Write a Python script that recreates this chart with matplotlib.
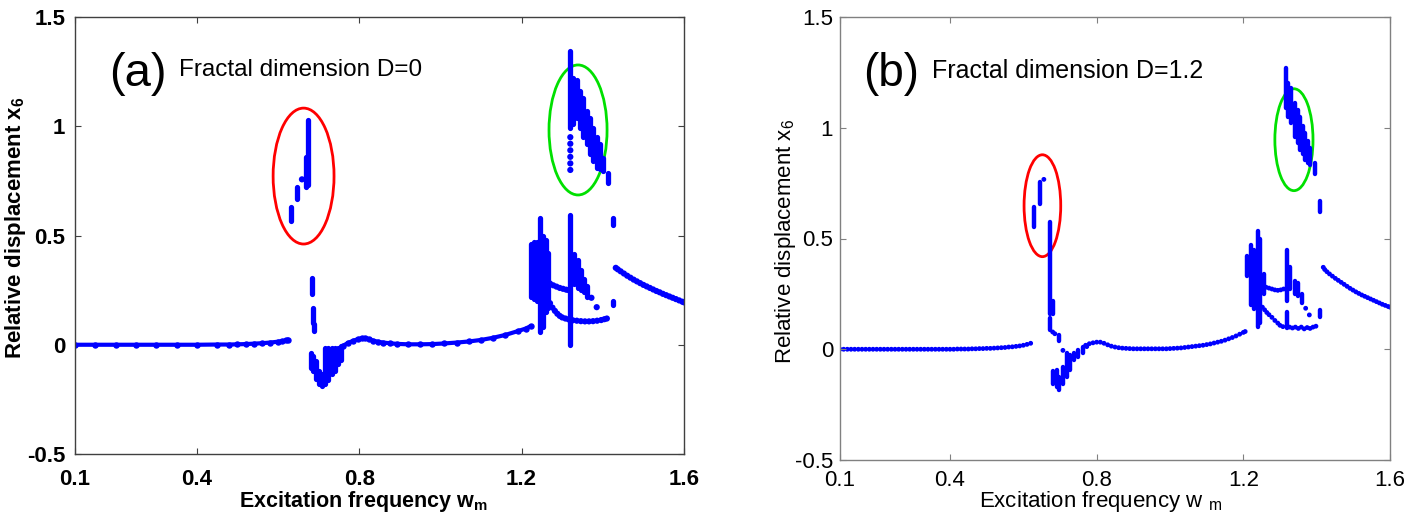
import matplotlib
matplotlib.use("Agg")
import matplotlib.pyplot as plt
from matplotlib.patches import Ellipse
from matplotlib import font_manager

# ---------------- data: panel (a) ----------------
A_BASE_L_X = [0.10, 0.15, 0.20, 0.25, 0.30, 0.35, 0.40, 0.45, 0.48, 0.50, 0.52, 0.54, 0.56, 0.58, 0.60, 0.61, 0.62, 0.625]
A_BASE_L_Y = [0.000, 0.000, 0.000, 0.000, 0.000, 0.000, 0.000, 0.001, 0.001, 0.002, 0.003, 0.005, 0.007, 0.010, 0.014, 0.017, 0.020, 0.024]
A_BASE_R_X = [0.760, 0.772, 0.785, 0.797, 0.806, 0.814, 0.824, 0.834, 0.846, 0.859, 0.875, 0.893, 0.92, 0.95, 0.98,
              1.01, 1.04, 1.07, 1.10, 1.13, 1.16, 1.19, 1.21, 1.222]
A_BASE_R_Y = [-0.005, 0.008, 0.018, 0.026, 0.030, 0.031, 0.026, 0.019, 0.014, 0.010, 0.007, 0.004, 0.002, 0.002, 0.003,
              0.006, 0.010, 0.015, 0.022, 0.032, 0.045, 0.062, 0.074, 0.085]
# dense columns: x, lower y, upper y
A_COL_X = [0.681, 0.687, 0.694, 0.700, 0.708, 0.716, 0.723, 0.732, 0.740, 0.748, 0.755,
           0.631, 0.647, 0.670, 0.675,
           0.684, 0.686, 0.689,
           1.224, 1.231, 1.238, 1.245, 1.252, 1.259, 1.265,
           1.320, 1.320,
           1.330, 1.338, 1.346, 1.354, 1.362,
           1.326, 1.336, 1.344, 1.352, 1.360, 1.368, 1.376, 1.385, 1.393, 1.401,
           1.413, 1.425, 1.425]
A_COL_LO = [-0.105, -0.120, -0.156, -0.180, -0.190, -0.180, -0.160, -0.134, -0.120, -0.090, -0.070,
            0.565, 0.665, 0.720, 0.730,
            0.230, 0.100, 0.065,
            0.22, 0.21, 0.20, 0.06, 0.08, 0.15, 0.17,
            0.00, 0.99,
            0.28, 0.26, 0.25, 0.24, 0.22,
            1.01, 1.04, 0.99, 0.95, 0.92, 0.875, 0.84, 0.81, 0.805, 0.797,
            0.74, 0.55, 0.18]
A_COL_HI = [-0.037, -0.050, -0.073, -0.120, -0.134, -0.013, -0.013, -0.013, -0.013, -0.013, -0.008,
            0.630, 0.720, 0.860, 1.030,
            0.305, 0.170, 0.095,
            0.46, 0.47, 0.47, 0.58, 0.50, 0.48, 0.42,
            0.595, 1.345,
            0.415, 0.39, 0.34, 0.30, 0.27,
            1.22, 1.21, 1.16, 1.13, 1.07, 1.04, 0.99, 0.95, 0.92, 0.856,
            0.785, 0.58, 0.20]
# individual points
A_PT_X = [0.659,
          1.320, 1.320, 1.320, 1.320, 1.320, 1.320,
          1.372, 1.385,
          1.270, 1.278, 1.286, 1.294, 1.302, 1.310, 1.316,
          1.270, 1.276, 1.282, 1.288, 1.294, 1.300, 1.308, 1.316, 1.326, 1.336, 1.346, 1.356, 1.366, 1.376,
          1.386, 1.396, 1.404, 1.410,
          1.432, 1.437, 1.444, 1.452, 1.460, 1.468, 1.476, 1.484, 1.492, 1.500, 1.508, 1.516, 1.524, 1.532,
          1.540, 1.548, 1.556, 1.564, 1.572, 1.580, 1.588, 1.596, 1.600]
A_PT_Y = [0.757,
          0.80, 0.83, 0.86, 0.89, 0.92, 0.95,
          0.215, 0.172,
          0.280, 0.272, 0.266, 0.260, 0.256, 0.252, 0.250,
          0.190, 0.170, 0.155, 0.142, 0.132, 0.125, 0.120, 0.116, 0.112, 0.110, 0.108, 0.107, 0.107, 0.108,
          0.110, 0.113, 0.117, 0.120,
          0.352, 0.345, 0.336, 0.326, 0.316, 0.307, 0.298, 0.290, 0.282, 0.274, 0.267, 0.260, 0.253, 0.246,
          0.240, 0.233, 0.227, 0.221, 0.215, 0.209, 0.203, 0.197, 0.194]

# ---------------- data: panel (b) ----------------
B_BASE_L_X = [0.10, 0.11, 0.12, 0.13, 0.14, 0.15, 0.16, 0.17, 0.18, 0.19, 0.20, 0.21, 0.22, 0.23, 0.24, 0.25, 0.26,
              0.27, 0.28, 0.29, 0.30, 0.31, 0.32, 0.33, 0.34, 0.35, 0.36, 0.37, 0.38, 0.39, 0.40, 0.41, 0.42, 0.43,
              0.44, 0.45, 0.46, 0.47, 0.48, 0.49, 0.50, 0.51, 0.52, 0.53, 0.54, 0.55, 0.56, 0.57, 0.58, 0.59, 0.60,
              0.61, 0.62]
B_BASE_L_Y = [0.000, 0.000, 0.000, 0.000, 0.000, 0.000, 0.000, 0.000, 0.000, 0.000, 0.000, 0.000, 0.000, 0.000,
              0.000, 0.000, 0.000, 0.000, 0.000, 0.000, 0.000, 0.000, 0.000, 0.000, 0.000, 0.000, 0.000, 0.000,
              0.000, 0.000, 0.000, 0.000, 0.001, 0.001, 0.001, 0.001, 0.002, 0.002, 0.003, 0.003, 0.004, 0.004,
              0.005, 0.006, 0.007, 0.008, 0.010, 0.011, 0.013, 0.015, 0.018, 0.022, 0.027]
B_BASE_R_X = [0.77, 0.78, 0.79, 0.80, 0.81, 0.82, 0.83, 0.84, 0.85, 0.86, 0.87, 0.88, 0.89, 0.90, 0.91, 0.92, 0.93,
              0.94, 0.95, 0.96, 0.97, 0.98, 0.99, 1.00, 1.01, 1.02, 1.03, 1.04, 1.05, 1.06, 1.07, 1.08, 1.09, 1.10,
              1.11, 1.12, 1.13, 1.14, 1.15, 1.16, 1.17, 1.18, 1.19, 1.20, 1.205]
B_BASE_R_Y = [0.018, 0.025, 0.029, 0.032, 0.032, 0.027, 0.020, 0.014, 0.010, 0.007, 0.005, 0.004, 0.003, 0.002,
              0.002, 0.002, 0.002, 0.002, 0.002, 0.002, 0.002, 0.002, 0.002, 0.003, 0.004, 0.005, 0.006, 0.008,
              0.010, 0.012, 0.014, 0.016, 0.018, 0.021, 0.024, 0.028, 0.032, 0.036, 0.041, 0.047, 0.053, 0.060,
              0.068, 0.076, 0.080]
B_COL_X = [0.682, 0.691, 0.698, 0.709, 0.718, 0.727, 0.738, 0.750, 0.762,
           0.630, 0.645, 0.672, 0.680, 0.672, 0.697,
           1.210, 1.220, 1.228, 1.240, 1.246, 1.255,
           1.318, 1.318, 1.328, 1.340, 1.348, 1.360, 1.410,
           1.316, 1.322, 1.330, 1.341, 1.348, 1.355, 1.362, 1.368, 1.375, 1.382, 1.395, 1.408]
B_COL_LO = [-0.155, -0.170, -0.185, -0.155, -0.125, -0.095, -0.050, -0.035, -0.018,
            0.550, 0.655, 0.160, 0.160, 0.085, 0.038,
            0.33, 0.20, 0.18, 0.10, 0.12, 0.25,
            0.22, 0.095, 0.27, 0.25, 0.24, 0.21, 0.145,
            1.09, 1.05, 1.02, 0.96, 0.93, 0.90, 0.88, 0.855, 0.84, 0.83, 0.79, 0.62]
B_COL_HI = [-0.100, -0.095, -0.125, -0.080, -0.018, -0.027, -0.018, -0.005, 0.010,
            0.640, 0.755, 0.575, 0.220, 0.140, 0.065,
            0.42, 0.47, 0.45, 0.535, 0.50, 0.34,
            0.45, 0.17, 0.37, 0.31, 0.30, 0.25, 0.175,
            1.27, 1.20, 1.18, 1.11, 1.08, 1.05, 1.01, 0.975, 0.94, 0.91, 0.84, 0.67]
B_PT_X = [0.656, 0.680, 0.686, 0.708, 0.773,
          1.262, 1.270, 1.278, 1.286, 1.294, 1.302, 1.310,
          1.252, 1.258, 1.264, 1.270, 1.278, 1.286, 1.294, 1.300, 1.308, 1.326, 1.334, 1.342, 1.350, 1.358,
          1.366, 1.374, 1.382, 1.390, 1.398,
          1.370, 1.380,
          1.418, 1.422, 1.428, 1.435, 1.443, 1.451, 1.459, 1.467, 1.475, 1.483, 1.491, 1.499, 1.507, 1.515,
          1.523, 1.531, 1.539, 1.547, 1.555, 1.563, 1.571, 1.579, 1.587, 1.595, 1.600]
B_PT_Y = [0.767, 0.078, 0.070, -0.005, 0.012,
          0.280, 0.276, 0.272, 0.268, 0.266, 0.268, 0.272,
          0.190, 0.178, 0.166, 0.156, 0.144, 0.130, 0.118, 0.108, 0.102, 0.100, 0.096, 0.100, 0.094, 0.100,
          0.092, 0.098, 0.094, 0.100, 0.104,
          0.185, 0.155,
          0.370, 0.360, 0.350, 0.340, 0.330, 0.320, 0.311, 0.302, 0.293, 0.284, 0.275, 0.267, 0.259, 0.252,
          0.245, 0.239, 0.233, 0.227, 0.221, 0.215, 0.209, 0.203, 0.198, 0.193, 0.190]

XTICKS = [0.1, 0.4, 0.8, 1.2, 1.6]
XTICK_LABELS = ["0.1", "0.4", "0.8", "1.2", "1.6"]
YTICKS = [-0.5, 0, 0.5, 1, 1.5]
YTICK_LABELS = ["-0.5", "0", "0.5", "1", "1.5"]

# ---------------- fonts ----------------
names = {f.name for f in font_manager.fontManager.ttflist}
BASE = "Liberation Sans" if "Liberation Sans" in names else "DejaVu Sans"
NARROW = "Liberation Sans Narrow" if "Liberation Sans Narrow" in names else None
plt.rcParams["font.family"] = [BASE, "DejaVu Sans"]
plt.rcParams["mathtext.default"] = "regular"

BLUE = "#0000ff"

fig = plt.figure(figsize=(14.18, 5.24), dpi=100)
axA = fig.add_axes([75 / 1418, 1 - 454 / 524, 609 / 1418, 437 / 524])
axB = fig.add_axes([840 / 1418, 1 - 460 / 524, 550 / 1418, 443 / 524])


def style(ax, bold, spine_color, xpad, ypad):
    ax.set_xlim(0.1, 1.6)
    ax.set_ylim(-0.5, 1.5)
    ax.set_xticks(XTICKS)
    ax.set_xticklabels(XTICK_LABELS)
    ax.set_yticks(YTICKS)
    ax.set_yticklabels(YTICK_LABELS)
    ax.tick_params(direction="in", length=4, width=0.8, top=True, right=True,
                   color=spine_color, labelsize=16)
    ax.tick_params(axis="x", pad=xpad)
    ax.tick_params(axis="y", pad=ypad)
    for lab in ax.get_xticklabels() + ax.get_yticklabels():
        lab.set_fontweight("bold" if bold else "normal")
    for sp in ax.spines.values():
        sp.set_color(spine_color)
        sp.set_linewidth(1.0)


# ---------------- panel (a) ----------------
axA.plot(A_BASE_L_X, A_BASE_L_Y, color=BLUE, lw=3.0, marker="o", ms=3.6, solid_capstyle="round")
axA.plot(A_BASE_R_X, A_BASE_R_Y, color=BLUE, lw=3.0, marker="o", ms=3.6, solid_capstyle="round")
axA.vlines(A_COL_X, A_COL_LO, A_COL_HI, colors=BLUE, linewidth=3.8, capstyle="round")
axA.scatter(A_PT_X, A_PT_Y, s=20, color=BLUE, edgecolors="none")
axA.add_patch(Ellipse((0.663, 0.772), 0.150, 0.622, fill=False, edgecolor="#ff0000", lw=2.0))
axA.add_patch(Ellipse((1.339, 0.983), 0.143, 0.595, fill=False, edgecolor="#00e000", lw=2.0))
axA.text(0.184, 1.185, "(a)", fontsize=34, va="baseline", ha="left")
axA.text(0.356, 1.230, "Fractal dimension D=0", fontsize=17.5, va="baseline", ha="left")
style(axA, True, "#404040", 11, 7)
axA.set_ylabel("Relative displacement x$_6$", fontsize=16, fontweight="bold")
axA.yaxis.set_label_coords(-0.077, 0.519)
if NARROW:
    axA.set_xlabel("Excitation frequency w$_m$", fontsize=18, fontweight="bold", family=[NARROW, BASE])
else:
    axA.set_xlabel("Excitation frequency w$_m$", fontsize=15.5, fontweight="bold")
axA.xaxis.set_label_coords(0.473, -0.081)

# ---------------- panel (b) ----------------
axB.scatter(B_BASE_L_X, B_BASE_L_Y, s=12, color=BLUE, edgecolors="none")
axB.scatter(B_BASE_R_X, B_BASE_R_Y, s=12, color=BLUE, edgecolors="none")
axB.vlines(B_COL_X, B_COL_LO, B_COL_HI, colors=BLUE, linewidth=3.2, capstyle="round")
axB.scatter(B_PT_X, B_PT_Y, s=12, color=BLUE, edgecolors="none")
axB.add_patch(Ellipse((0.652, 0.648), 0.100, 0.460, fill=False, edgecolor="#ff0000", lw=2.0))
axB.add_patch(Ellipse((1.338, 0.946), 0.104, 0.460, fill=False, edgecolor="#00e000", lw=2.0))
axB.text(0.163, 1.187, "(b)", fontsize=33, va="baseline", ha="left")
axB.text(0.352, 1.225, "Fractal dimension D=1.2", fontsize=18, va="baseline", ha="left")
style(axB, False, "#808080", 7, 5)
axB.set_ylabel("Relative displacement x$_6$", fontsize=16)
axB.yaxis.set_label_coords(-0.076, 0.494)
axB.set_xlabel("Excitation frequency w $_{m}$", fontsize=16)
axB.xaxis.set_label_coords(0.473, -0.065)

fig.savefig("out.png", dpi=100)
